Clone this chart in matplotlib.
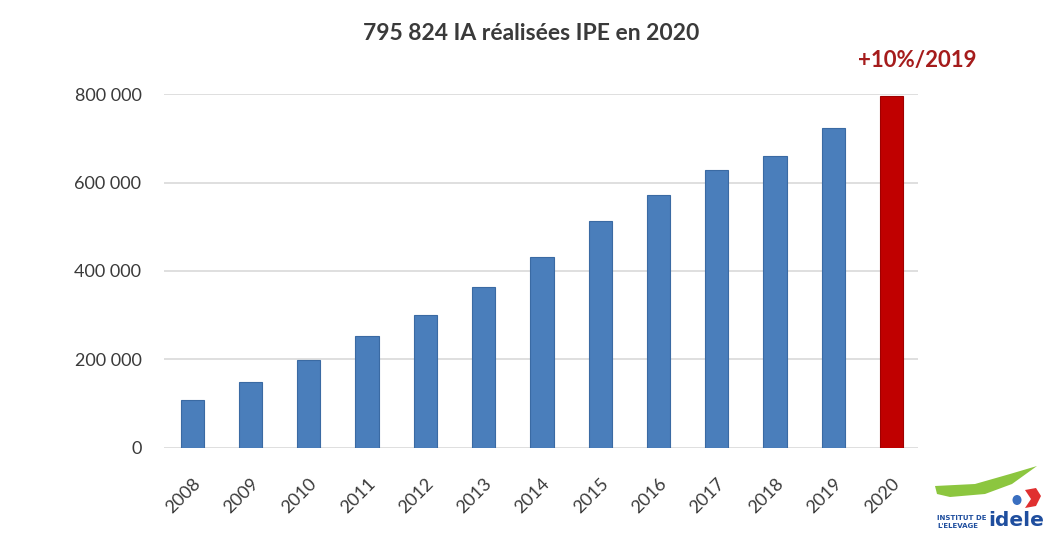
import numpy as np
import matplotlib.pyplot as plt
import matplotlib as mpl
from matplotlib.patches import Polygon, Ellipse

# Artificial inseminations (IA) done per year
years = ["2008", "2009", "2010", "2011", "2012", "2013", "2014",
         "2015", "2016", "2017", "2018", "2019", "2020"]
ia_counts = [108000, 149000, 198000, 253000, 300000, 364000, 431000,
             512000, 573000, 628000, 660000, 723000, 795824]
yticks = [0, 200000, 400000, 600000, 800000]
ytick_labels = ["0", "200 000", "400 000", "600 000", "800 000"]

title = "795 824 IA réalisées IPE en 2020"
note = "+10%/2019"

mpl.rc("font", family=["Lato", "DejaVu Sans"])

blue = "#4a7ebb"
blue_edge = "#3a6aa3"
red = "#c00000"
text_col = "#3a3a3a"

fig = plt.figure(figsize=(10.49, 5.36), dpi=100)
ax = fig.add_axes([0.156, 0.165, 0.719, 0.659])

x = np.arange(len(years))
colors = [blue] * (len(years) - 1) + [red]
edges = [blue_edge] * (len(years) - 1) + ["#a00000"]
ax.bar(x, ia_counts, width=0.4, color=colors, edgecolor=edges,
       linewidth=0.8, zorder=3)

ax.set_xlim(-0.49, 12.45)
ax.set_ylim(0, 800000)
ax.set_yticks(yticks)
ax.set_yticklabels(ytick_labels)
ax.set_xticks(x)
ax.set_xticklabels(years, rotation=45, ha="right", rotation_mode="anchor")
ax.grid(axis="y", color="#d9d9d9", linewidth=1.2, zorder=0)
ax.set_axisbelow(True)
for s in ax.spines.values():
    s.set_visible(False)
ax.tick_params(axis="both", length=0, labelsize=13, colors=text_col)
ax.tick_params(axis="y", pad=16)
ax.tick_params(axis="x", pad=20)

fig.text(531 / 1049, 1 - 34 / 536, title, ha="center", va="center",
         fontsize=16.5, fontweight="bold", color=text_col)
fig.text(917 / 1049, 1 - 60 / 536, note, ha="center", va="center",
         fontsize=16, fontweight="bold", color="#a51c1c")

# small logo in the bottom right corner, in pixel coordinates
lax = fig.add_axes([920 / 1049, 0, 129 / 1049, 86 / 536])
lax.set_xlim(920, 1049)
lax.set_ylim(536, 450)
lax.axis("off")
lax.add_patch(Polygon([[935, 486], [975, 484], [1010, 474], [1037, 466],
                       [1012, 484], [985, 494], [950, 497], [937, 494]],
                      closed=True, color="#8cc63f", lw=0))
lax.add_patch(Polygon([[1025, 490], [1036, 488], [1041, 496],
                       [1036, 506], [1025, 508], [1031, 499]],
                      closed=True, color="#e03030", lw=0))
lax.add_patch(Ellipse((1017, 500), 9, 10, color="#3a6fc0", lw=0))
lax.text(988, 520, "idele", fontsize=14.5, fontweight="bold",
         color="#1f4e9e", ha="left", va="center",
         family=["DejaVu Sans"])
lax.text(937, 518, "INSTITUT DE", fontsize=5, color="#1f4e9e",
         fontweight="bold", va="center", family=["DejaVu Sans"])
lax.text(937, 526, "L'ELEVAGE", fontsize=5, color="#1f4e9e",
         fontweight="bold", va="center", family=["DejaVu Sans"])

fig.savefig("out.png", dpi=100)
